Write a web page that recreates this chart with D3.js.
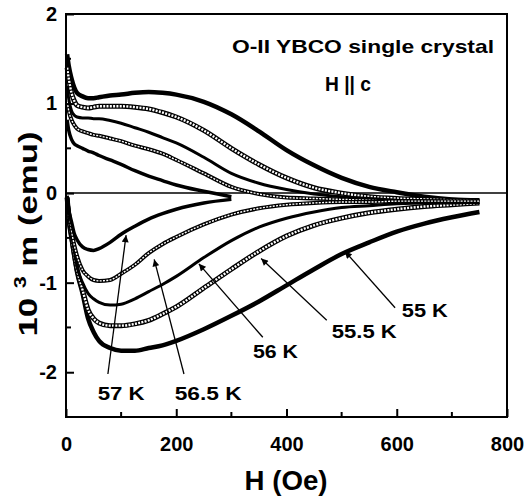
<!DOCTYPE html>
<html>
	<head>
		<meta charset="utf-8">
		<script type="text/javascript" src="https://d3js.org/d3.v7.min.js"></script>
		<style>
			body { margin: 0; background: #fff; }
			text { font-family: "Liberation Sans", Arial, sans-serif; font-weight: bold; fill: #000; }
		</style>
	</head>
	<body>
		<svg width="527" height="499"></svg>
		<script type="text/javascript">
		/** field values (Oe) shared by the sweeps **/
		var fieldH = [2, 5, 10, 15, 20, 30, 40, 50, 60, 80, 100, 125, 150, 175, 200, 250, 300, 350, 400, 450, 500, 550, 600, 650, 700, 750];
		var fieldH57 = [2, 5, 10, 15, 20, 30, 40, 50, 60, 80, 100, 125, 150, 175, 200, 250, 300];

		/** 10^3 m (emu), upper branch **/
		var up55  = [1.55, 1.42, 1.28, 1.18, 1.12, 1.08, 1.06, 1.06, 1.07, 1.09, 1.10, 1.12, 1.13, 1.12, 1.10, 1.02, 0.88, 0.69, 0.48, 0.31, 0.17, 0.07, 0.01, -0.04, -0.07, -0.08];
		var up555 = [1.40, 1.28, 1.12, 1.03, 0.98, 0.96, 0.95, 0.96, 0.97, 0.97, 0.97, 0.96, 0.94, 0.90, 0.85, 0.70, 0.50, 0.32, 0.17, 0.06, 0.00, -0.04, -0.06, -0.07, -0.08, -0.09];
		var up56  = [1.20, 1.05, 0.92, 0.87, 0.85, 0.84, 0.84, 0.83, 0.83, 0.81, 0.78, 0.73, 0.68, 0.62, 0.56, 0.40, 0.22, 0.11, 0.04, -0.01, -0.04, -0.06, -0.08, -0.09, -0.10, -0.10];
		var up565 = [1.02, 0.92, 0.82, 0.76, 0.72, 0.69, 0.67, 0.65, 0.64, 0.61, 0.58, 0.53, 0.49, 0.44, 0.37, 0.22, 0.07, -0.01, -0.05, -0.06, -0.07, -0.08, -0.09, -0.09, -0.10, -0.10];
		var up57  = [0.82, 0.70, 0.60, 0.55, 0.53, 0.50, 0.47, 0.45, 0.42, 0.37, 0.32, 0.25, 0.19, 0.14, 0.09, 0.02, -0.04];

		/** 10^3 m (emu), lower branch **/
		var lo55  = [-0.05, -0.30, -0.50, -0.70, -0.88, -1.12, -1.40, -1.55, -1.65, -1.73, -1.76, -1.76, -1.73, -1.70, -1.65, -1.52, -1.37, -1.21, -1.03, -0.85, -0.68, -0.55, -0.43, -0.34, -0.27, -0.21];
		var lo555 = [-0.05, -0.25, -0.48, -0.68, -0.85, -1.08, -1.30, -1.40, -1.45, -1.48, -1.48, -1.46, -1.42, -1.35, -1.27, -1.06, -0.85, -0.65, -0.48, -0.36, -0.28, -0.22, -0.18, -0.15, -0.13, -0.11];
		var lo56  = [-0.05, -0.22, -0.45, -0.65, -0.82, -1.00, -1.12, -1.18, -1.22, -1.25, -1.24, -1.18, -1.10, -1.02, -0.93, -0.72, -0.53, -0.38, -0.28, -0.21, -0.16, -0.14, -0.12, -0.11, -0.11, -0.10];
		var lo565 = [-0.05, -0.20, -0.42, -0.58, -0.70, -0.86, -0.93, -0.97, -0.98, -0.97, -0.90, -0.80, -0.67, -0.57, -0.49, -0.35, -0.24, -0.17, -0.13, -0.11, -0.10, -0.10, -0.09, -0.09, -0.09, -0.09];
		var lo57  = [-0.03, -0.18, -0.32, -0.45, -0.52, -0.60, -0.63, -0.64, -0.62, -0.55, -0.46, -0.37, -0.29, -0.23, -0.18, -0.11, -0.07];

		/** temperature labels and arrows: label pos, arrow tail, arrow tip (H, m) **/
		var tempLabels = ["55 K", "55.5 K", "56 K", "56.5 K", "57 K"];
		var labelPos   = [[651, -1.38], [541, -1.62], [380, -1.84], [258, -2.31], [100, -2.31]];
		var arrowTail  = [[597, -1.28], [473, -1.42], [357, -1.61], [214, -2.02], [76, -2.02]];
		var arrowTip   = [[506, -0.65], [354, -0.73], [241, -0.79], [160, -0.74], [109, -0.47]];
		var labelWidth = [46, 65, 45, 67, 47];

		var xTicks = [0, 200, 400, 600, 800];
		var xMinor = [100, 300, 500, 700];
		var yTicks = [-2, -1, 0, 1, 2];
		var yMinor = [-1.5, -0.5, 0.5, 1.5];

		var svgContainer = d3.select("svg"),
		    margin = {top: 14, right: 20, bottom: 82, left: 66},
		    width = +svgContainer.attr("width") - margin.left - margin.right,
		    height = +svgContainer.attr("height") - margin.top - margin.bottom;

		var x = d3.scaleLinear().domain([0, 800]).range([0, width]),
		    y = d3.scaleLinear().domain([-2.5, 2]).range([height, 0]);

		var g = svgContainer.append("g")
		    .attr("transform", "translate(" + margin.left + "," + margin.top + ")");

		/** series table built from the arrays **/
		var series = [
			{h: fieldH,   m: up55,  style: "fill",  w: 4.5},
			{h: fieldH,   m: lo55,  style: "fill",  w: 4.5},
			{h: fieldH,   m: up555, style: "open",  w: 5},
			{h: fieldH,   m: lo555, style: "open",  w: 5},
			{h: fieldH,   m: up56,  style: "fill",  w: 3},
			{h: fieldH,   m: lo56,  style: "fill",  w: 3},
			{h: fieldH,   m: up565, style: "open",  w: 4},
			{h: fieldH,   m: lo565, style: "open",  w: 4},
			{h: fieldH57, m: up57,  style: "fill",  w: 3.5},
			{h: fieldH57, m: lo57,  style: "fill",  w: 3.5}
		];

		var line = d3.line()
		    .x(function(d) { return x(d[0]); })
		    .y(function(d) { return y(d[1]); })
		    .curve(d3.curveMonotoneX);

		/** zero line **/
		g.append("line")
		  .attr("x1", 0).attr("x2", width)
		  .attr("y1", y(0)).attr("y2", y(0))
		  .attr("stroke", "#000")
		  .attr("stroke-width", 1.5);

		series.forEach(function(s) {
			var pts = s.h.map(function(h, i) { return [h, s.m[i]]; });
			g.append("path")
			  .attr("d", line(pts))
			  .attr("fill", "none")
			  .attr("stroke", "#000")
			  .attr("stroke-width", s.w)
			  .attr("stroke-linejoin", "round");
			if (s.style == "open") {
				// hollow symbols: white inside, black gaps between them
				g.append("path")
				  .attr("d", line(pts))
				  .attr("fill", "none")
				  .attr("stroke", "#fff")
				  .attr("stroke-width", s.w - 2.6)
				  .attr("stroke-dasharray", "2,1.3");
			}
		});

		/** arrows **/
		svgContainer.append("defs").append("marker")
		  .attr("id", "head")
		  .attr("viewBox", "0 0 10 10")
		  .attr("refX", 10).attr("refY", 5)
		  .attr("markerWidth", 9).attr("markerHeight", 7)
		  .attr("markerUnits", "userSpaceOnUse")
		  .attr("orient", "auto")
		  .append("path")
		  .attr("d", "M0,0L10,5L0,10z")
		  .attr("fill", "#000");

		tempLabels.forEach(function(t, i) {
			g.append("line")
			  .attr("x1", x(arrowTail[i][0])).attr("y1", y(arrowTail[i][1]))
			  .attr("x2", x(arrowTip[i][0])).attr("y2", y(arrowTip[i][1]))
			  .attr("stroke", "#000")
			  .attr("stroke-width", 1.3)
			  .attr("marker-end", "url(#head)");
			g.append("text")
			  .attr("x", x(labelPos[i][0]))
			  .attr("y", y(labelPos[i][1]))
			  .attr("text-anchor", "middle")
			  .attr("font-size", "18px")
			  .attr("textLength", labelWidth[i])
			  .attr("lengthAdjust", "spacingAndGlyphs")
			  .text(t);
		});

		/** frame **/
		g.append("rect")
		  .attr("width", width).attr("height", height)
		  .attr("fill", "none")
		  .attr("stroke", "#000")
		  .attr("stroke-width", 2);

		/** ticks pointing inward **/
		var xaxis = d3.axisBottom(x).tickValues(xTicks).tickSizeInner(-8).tickSizeOuter(0).tickPadding(20);
		var yaxis = d3.axisLeft(y).tickValues(yTicks).tickSizeInner(-8).tickSizeOuter(0).tickPadding(9)
		    .tickFormat(function(d) { return String(d); });

		g.append("g")
		  .attr("class", "axis axis--x")
		  .attr("transform", "translate(0," + height + ")")
		  .call(customXaxis);

		g.append("g")
		  .attr("class", "axis axis--y")
		  .call(customYaxis);

		g.selectAll("minor-x")
		  .data(xMinor).enter()
		  .append("line")
		  .attr("x1", function(d) { return x(d); }).attr("x2", function(d) { return x(d); })
		  .attr("y1", height).attr("y2", height - 5)
		  .attr("stroke", "#000").attr("stroke-width", 2);

		g.selectAll("minor-y")
		  .data(yMinor).enter()
		  .append("line")
		  .attr("x1", 0).attr("x2", 5)
		  .attr("y1", function(d) { return y(d); }).attr("y2", function(d) { return y(d); })
		  .attr("stroke", "#000").attr("stroke-width", 2);

		/** labels **/
		svgContainer.append("text")
		  .attr("x", 363).attr("y", 53)
		  .attr("text-anchor", "middle")
		  .attr("font-size", "19px")
		  .attr("textLength", 262)
		  .attr("lengthAdjust", "spacingAndGlyphs")
		  .text("O-II YBCO single crystal");

		svgContainer.append("text")
		  .attr("x", 348).attr("y", 91)
		  .attr("text-anchor", "middle")
		  .attr("font-size", "21px")
		  .attr("textLength", 46)
		  .attr("lengthAdjust", "spacingAndGlyphs")
		  .text("H || c");

		svgContainer.append("text")
		  .attr("x", 286).attr("y", 490)
		  .attr("text-anchor", "middle")
		  .attr("font-size", "27px")
		  .attr("textLength", 83)
		  .attr("lengthAdjust", "spacingAndGlyphs")
		  .text("H (Oe)");

		var ylab = svgContainer.append("text")
		  .attr("transform", "translate(37,234) rotate(-90)")
		  .attr("text-anchor", "middle")
		  .attr("font-size", "26px")
		  .attr("textLength", 205)
		  .attr("lengthAdjust", "spacingAndGlyphs");
		ylab.append("tspan").text("10  ");
		ylab.append("tspan").attr("font-size", "16px").attr("dy", -11).text("3");
		ylab.append("tspan").attr("dy", 11).text(" m (emu)");

		function customXaxis(g){
		  g.call(xaxis);
		  g.select(".domain").remove();
		  g.selectAll("line").attr("stroke", "#000").attr("stroke-width", 2);
		  g.selectAll("text")
		      .style("font-size", "20px")
		      .style("font-family", "Liberation Sans, Arial")
		      .style("font-weight", "bold")
		      .style("fill", "#000");
		}

		function customYaxis(g){
		  g.call(yaxis);
		  g.select(".domain").remove();
		  g.selectAll("line").attr("stroke", "#000").attr("stroke-width", 2);
		  g.selectAll("text")
		      .style("font-size", "20px")
		      .style("font-family", "Liberation Sans, Arial")
		      .style("font-weight", "bold")
		      .style("fill", "#000");
		}
		</script>
	</body>
</html>
